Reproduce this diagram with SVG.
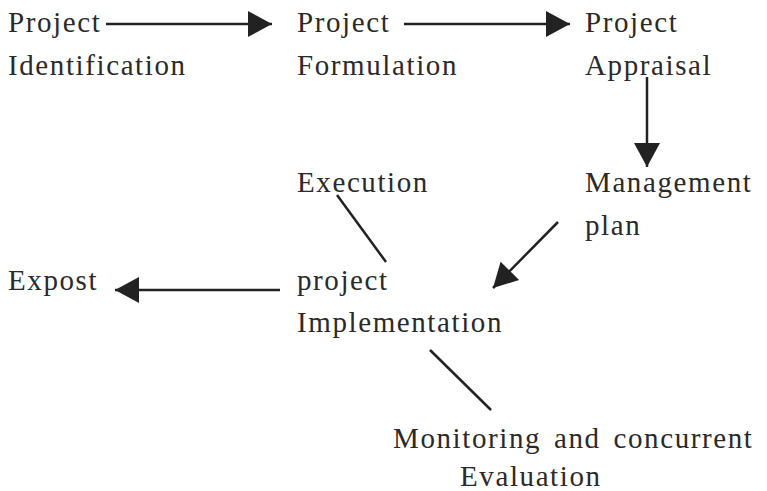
<svg xmlns="http://www.w3.org/2000/svg" width="767" height="491" viewBox="0 0 767 491" font-family="Liberation Serif, DejaVu Serif, serif">
  <style>
    text { font-family: 'Liberation Serif', 'DejaVu Serif', serif; font-size: 29px; letter-spacing: 1.6px; fill: #2a2a2a; }
    .arrow { stroke: #222; stroke-width: 2.5; fill: none; marker-end: url(#head); }
    .link { stroke: #222; stroke-width: 2.5; fill: none; }
  </style>
  <defs>
    <marker id="head" markerUnits="userSpaceOnUse" markerWidth="26" markerHeight="26" viewBox="0 0 24 26" refX="24" refY="13" orient="auto">
      <path d="M0,0 L24,13 L0,26 Z" fill="#222"/>
    </marker>
  </defs>
  <rect width="767" height="491" fill="#fff"/>

  <g id="connectors">
    <line class="arrow" x1="106" y1="24" x2="272" y2="24"/>
    <line class="arrow" x1="404" y1="24" x2="570" y2="24"/>
    <line class="arrow" x1="647" y1="77" x2="647" y2="167"/>
    <line class="arrow" x1="558" y1="222" x2="493" y2="288"/>
    <line class="arrow" x1="280" y1="290" x2="115" y2="290"/>
    <line class="link" x1="337" y1="195" x2="386" y2="262"/>
    <line class="link" x1="430" y1="350" x2="491" y2="410"/>
  </g>

  <g id="identification">
    <text x="8" y="32">Project</text>
    <text x="8" y="75">Identification</text>
  </g>
  <g id="formulation">
    <text x="297" y="32">Project</text>
    <text x="297" y="75">Formulation</text>
  </g>
  <g id="appraisal">
    <text x="585" y="32">Project</text>
    <text x="585" y="75">Appraisal</text>
  </g>
  <g id="execution">
    <text x="297" y="192">Execution</text>
  </g>
  <g id="management">
    <text x="585" y="192">Management</text>
    <text x="585" y="235">plan</text>
  </g>
  <g id="expost">
    <text x="8" y="290">Expost</text>
  </g>
  <g id="implementation">
    <text x="297" y="290">project</text>
    <text x="297" y="332">Implementation</text>
  </g>
  <g id="monitoring">
    <text x="393" y="448" word-spacing="4">Monitoring and concurrent</text>
    <text x="460" y="486">Evaluation</text>
  </g>
</svg>
